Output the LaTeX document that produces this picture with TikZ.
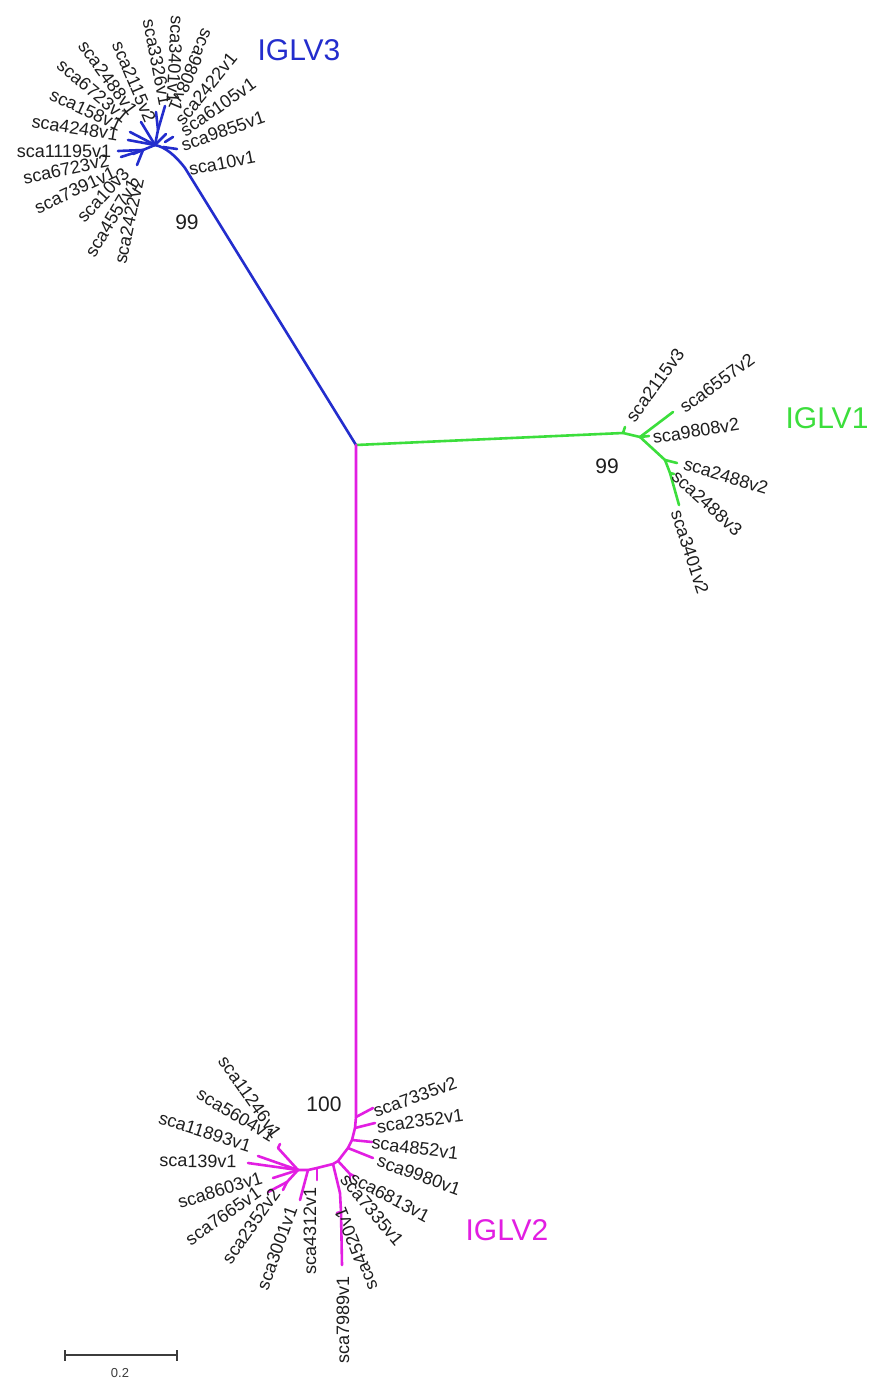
\documentclass[tikz,border=0pt]{standalone}
\usepackage{fontspec}
\setmainfont{Liberation Sans}
\definecolor{blueT}{RGB}{35,45,205}
\definecolor{greenT}{RGB}{60,222,60}
\definecolor{magT}{RGB}{226,30,226}
\definecolor{txt}{RGB}{30,30,30}
\definecolor{barc}{RGB}{60,60,60}
\tikzset{
 lab/.style={font=\fontsize{18}{18}\selectfont, text=txt, inner sep=0pt, anchor=center},
 clade/.style={font=\fontsize{30}{30}\selectfont, inner sep=0pt},
 boot/.style={font=\fontsize{21}{21}\selectfont, text=txt, inner sep=0pt},
 br/.style={line width=2.6pt, line cap=round, line join=round},
}
\begin{document}
\begin{tikzpicture}[x=1pt,y=-1pt]
\useasboundingbox[fill=white] (0,0) rectangle (873,1383);
% ---------- root
\coordinate (C) at (356,445);
% ---------- IGLV3 (blue)
\coordinate (B0) at (185,168);
\coordinate (BH) at (155,145);
\coordinate (B1) at (158,130);
\coordinate (BL) at (143,150);
\coordinate (bR1) at (163,147);
\coordinate (bR2) at (165,142);
\coordinate (t10v1) at (177,149);
\coordinate (t9855) at (173,137);
\coordinate (t6105) at (166,134);
\coordinate (t3401) at (165,106);
\coordinate (t3326) at (156,112);
\coordinate (t2115) at (141,122);
\coordinate (t6723a) at (130,132);
\coordinate (t4248) at (128,140);
\coordinate (t11195) at (118,151);
\coordinate (t6723b) at (121,157);
\coordinate (t7391) at (133,154);
\coordinate (t10v3) at (137,165);
\draw[br, blueT] (C) -- (B0) .. controls (175,155) and (165,147) .. (BH);
\draw[br, blueT] (bR1) -- (t10v1);
\draw[br, blueT] (bR2) -- (t9855);
\draw[br, blueT] (BH) -- (t6105);
\draw[br, blueT] (BH) -- (B1) -- (t3401);
\draw[br, blueT] (B1) -- (t3326);
\draw[br, blueT] (BH) -- (t2115);
\draw[br, blueT] (BH) -- (t6723a);
\draw[br, blueT] (BH) -- (t4248);
\draw[br, blueT] (BH) -- (BL) -- (t11195);
\draw[br, blueT] (BL) -- (t6723b);
\draw[br, blueT] (BL) -- (t7391);
\draw[br, blueT] (BL) -- (t10v3);
\node[lab, rotate=-93] (l3401v1) at (175,59) {sca3401v1};
\node[lab, rotate=-113] (l9808v1) at (191,70) {sca9808v1};
\node[lab, rotate=-79] (l3326v1) at (157,62) {sca3326v1};
\node[lab, rotate=-67] (l2115v2) at (134,82) {sca2115v2};
\node[lab, rotate=-54] (l2488v1) at (108,78) {sca2488v1};
\node[lab, rotate=-40] (l6723v1) at (93,91) {sca6723v1};
\node[lab, rotate=-25] (l158v1) at (86,110) {sca158v1};
\node[lab, rotate=-9] (l4248v1) at (75,128) {sca4248v1};
\node[lab, rotate=0] (l11195v1) at (64,151) {sca11195v1};
\node[lab, rotate=12] (l6723v2) at (66,169) {sca6723v2};
\node[lab, rotate=25] (l7391v1) at (75,190) {sca7391v1};
\node[lab, rotate=47] (l10v3) at (103,195) {sca10v3};
\node[lab, rotate=59] (l4557v1) at (112,218) {sca4557v1};
\node[lab, rotate=78] (l2422v2) at (129,221) {sca2422v2};
\node[lab, rotate=51] (l2422v1) at (206,89) {sca2422v1};
\node[lab, rotate=35] (l6105v1) at (218,107) {sca6105v1};
\node[lab, rotate=19] (l9855v1) at (223,131) {sca9855v1};
\node[lab, rotate=11] (l10v1) at (222,163) {sca10v1};
\node[clade, text=blueT] (IGLV3) at (299,50) {IGLV3};
\node[boot] (bs3) at (187,222) {99};
% ---------- IGLV1 (green)
\coordinate (G1) at (623,433);
\coordinate (G2) at (640,437);
\coordinate (G3) at (665,460);
\coordinate (G4) at (670,473);
\coordinate (g2115) at (625,427);
\coordinate (g6557) at (673,412);
\coordinate (g9808) at (649,436);
\coordinate (g2488a) at (677,463);
\coordinate (g2488b) at (674,474);
\coordinate (g3401) at (679,505);
\draw[br, greenT] (C) -- (G1) -- (G2);
\draw[br, greenT] (G1) -- (g2115);
\draw[br, greenT] (G2) -- (g6557);
\draw[br, greenT] (G2) -- (g9808);
\draw[br, greenT] (G2) -- (G3) -- (g2488a);
\draw[br, greenT] (G3) -- (G4) -- (g3401);
\draw[br, greenT] (G4) -- (g2488b);
\node[lab, rotate=54] (l2115v3) at (655,385) {sca2115v3};
\node[lab, rotate=36] (l6557v2) at (717,383) {sca6557v2};
\node[lab, rotate=9] (l9808v2) at (696,431) {sca9808v2};
\node[lab, rotate=-17] (l2488v2) at (726,476) {sca2488v2};
\node[lab, rotate=-42] (l2488v3) at (707,503) {sca2488v3};
\node[lab, rotate=-72] (l3401v2) at (690,552) {sca3401v2};
\node[clade, text=greenT] (IGLV1) at (827,418) {IGLV1};
\node[boot] (bs1) at (607,466) {99};
% ---------- IGLV2 (magenta)
\coordinate (M1) at (356,1108);
\coordinate (Ma) at (356,1117);
\coordinate (Mb) at (355,1128);
\coordinate (Mc) at (352,1140);
\coordinate (Md) at (348,1148);
\coordinate (Me) at (338,1161);
\coordinate (Mf) at (333,1164);
\coordinate (Mg) at (317,1168);
\coordinate (Mh) at (308,1170);
\coordinate (MH) at (298,1170);
\draw[br, magT] (C) -- (M1) -- (Ma) -- (Mb) -- (Mc) -- (Md) -- (Me) -- (Mf) -- (Mg) -- (Mh) -- (MH);
\coordinate (m7335b) at (373,1108);
\coordinate (m2352a) at (375,1123);
\coordinate (m4852) at (372,1142);
\coordinate (m9980) at (373,1158);
\coordinate (mR) at (350,1174);
\coordinate (m6813) at (354,1176);
\coordinate (m7335a) at (350,1180);
\coordinate (mD1) at (340,1193);
\coordinate (mD2) at (341,1212);
\coordinate (m4520) at (337,1213);
\coordinate (m7989) at (342,1265);
\coordinate (m4312) at (317,1180);
\coordinate (m3001) at (300,1200);
\coordinate (mL1) at (287,1182);
\coordinate (m7665) at (268,1192);
\coordinate (m2352b) at (283,1190);
\coordinate (m8603) at (273,1178);
\coordinate (m139) at (248,1163);
\coordinate (m11893) at (258,1156);
\coordinate (m5604) at (278,1148);
\coordinate (m11246) at (280,1144);
\draw[br, magT] (Ma) -- (m7335b);
\draw[br, magT] (Mb) -- (m2352a);
\draw[br, magT] (Mc) -- (m4852);
\draw[br, magT] (Md) -- (m9980);
\draw[br, magT] (Me) -- (mR) -- (m6813);
\draw[br, magT] (mR) -- (m7335a);
\draw[br, magT] (Mf) -- (mD1) -- (mD2) -- (m7989);
\draw[br, magT] (mD2) -- (m4520);
\draw[br, magT] (Mg) -- (m4312);
\draw[br, magT] (Mh) -- (m3001);
\draw[br, magT] (MH) -- (mL1) -- (m7665);
\draw[br, magT] (mL1) -- (m2352b);
\draw[br, magT] (MH) -- (m8603);
\draw[br, magT] (MH) -- (m139);
\draw[br, magT] (MH) -- (m11893);
\draw[br, magT] (MH) -- (m5604);
\draw[br, magT] (m5604) -- (m11246);
\node[lab, rotate=-55] (l11246v1) at (250,1097) {sca11246v1};
\node[lab, rotate=-31] (l5604v1) at (236,1115) {sca5604v1};
\node[lab, rotate=-18] (l11893v1) at (205,1132) {sca11893v1};
\node[lab, rotate=-1] (l139v1) at (198,1161) {sca139v1};
\node[lab, rotate=17] (l8603v1) at (220,1190) {sca8603v1};
\node[lab, rotate=35] (l7665v1) at (223,1216) {sca7665v1};
\node[lab, rotate=55] (l2352v2) at (251,1226) {sca2352v2};
\node[lab, rotate=70] (l3001v1) at (277,1248) {sca3001v1};
\node[lab, rotate=90] (l4312v1) at (310,1231) {sca4312v1};
\node[lab, rotate=90] (l7989v1) at (343,1320) {sca7989v1};
\node[lab, rotate=112] (l4520v1) at (356,1249) {sca4520v1};
\node[lab, rotate=-50] (l7335v1) at (372,1210) {sca7335v1};
\node[lab, rotate=-28] (l6813v1) at (390,1197) {sca6813v1};
\node[lab, rotate=-20] (l9980v1) at (419,1175) {sca9980v1};
\node[lab, rotate=-7] (l4852v1) at (415,1148) {sca4852v1};
\node[lab, rotate=8] (l2352v1) at (420,1121) {sca2352v1};
\node[lab, rotate=20] (l7335v2) at (415,1097) {sca7335v2};
\node[clade, text=magT] (IGLV2) at (507,1230) {IGLV2};
\node[boot] (bs2) at (324,1104) {100};
% ---------- scale bar
\coordinate (s1) at (65,1355);
\coordinate (s2) at (177,1355);
\draw[barc, line width=1.2pt] (s1) -- (s2);
\draw[barc, line width=1.2pt] ([yshift=-5.5pt]s1) -- ([yshift=5.5pt]s1);
\draw[barc, line width=1.2pt] ([yshift=-5.5pt]s2) -- ([yshift=5.5pt]s2);
\node[font=\fontsize{13}{13}\selectfont, text=barc, inner sep=0pt] (sbl) at (120,1373) {0.2};
\end{tikzpicture}
\end{document}
